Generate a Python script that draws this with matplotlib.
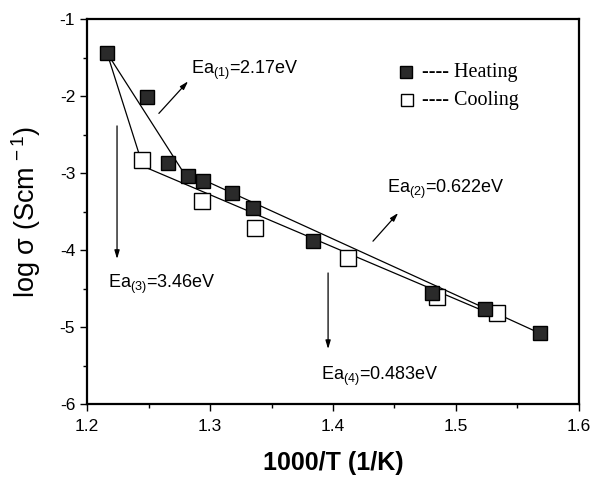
import matplotlib
matplotlib.use("Agg")
import matplotlib.pyplot as plt
from matplotlib.ticker import MultipleLocator

plt.rcParams["font.family"] = ["Liberation Sans", "DejaVu Sans"]
plt.rcParams["mathtext.fontset"] = "custom"
plt.rcParams["mathtext.rm"] = "Liberation Sans"
plt.rcParams["mathtext.it"] = "Liberation Sans"
plt.rcParams["mathtext.default"] = "regular"
plt.rcParams["axes.unicode_minus"] = False

# conductivity data, 1000/T vs log sigma
heat_x = [1.2163, 1.2488, 1.2659, 1.2821, 1.2943, 1.3179, 1.3350, 1.3837, 1.4805, 1.5236, 1.5683]
heat_y = [-1.44, -2.01, -2.87, -3.04, -3.10, -3.26, -3.45, -3.88, -4.55, -4.77, -5.08]
cool_x = [1.2447, 1.2935, 1.3366, 1.4122, 1.4846, 1.5333]
cool_y = [-2.83, -3.36, -3.71, -4.10, -4.61, -4.81]

# two-segment Arrhenius fits
fit_heat_x = [1.2163, 1.2772, 1.5683]
fit_heat_y = [-1.44, -2.96, -5.08]
fit_cool_x = [1.2163, 1.2455, 1.5358]
fit_cool_y = [-1.44, -2.91, -4.88]

ea_labels = ["Ea$_{(1)}$=2.17eV", "Ea$_{(2)}$=0.622eV", "Ea$_{(3)}$=3.46eV", "Ea$_{(4)}$=0.483eV"]
legend_labels = ["---- Heating", "---- Cooling"]

fig = plt.figure(figsize=(5.92, 4.8), dpi=100)
ax = fig.add_axes([0.147, 0.158, 0.831, 0.802])

ax.plot(fit_heat_x, fit_heat_y, color="black", lw=0.9, zorder=2)
ax.plot(fit_cool_x, fit_cool_y, color="black", lw=0.9, zorder=2)
ax.plot(cool_x, cool_y, ls="none", marker="s", ms=11, mfc="white", mec="black", mew=1.0, zorder=3)
ax.plot(heat_x, heat_y, ls="none", marker="s", ms=9.5, mfc="#2a2a2a", mec="black", mew=1.0, zorder=4)

arrow = dict(arrowstyle="-|>,head_length=0.5,head_width=0.15", color="black", lw=0.9)
# Ea(1)
ax.annotate("", xy=(1.2837, -1.78), xytext=(1.2569, -2.25), arrowprops=arrow)
ax.text(1.2845, -1.66, ea_labels[0], fontsize=13, va="center", ha="left")
# Ea(2)
ax.annotate("", xy=(1.4545, -3.49), xytext=(1.4310, -3.91), arrowprops=arrow)
ax.text(1.4440, -3.21, ea_labels[1], fontsize=13, va="center", ha="left")
# Ea(3)
ax.annotate("", xy=(1.2244, -4.15), xytext=(1.2244, -2.35), arrowprops=arrow)
ax.text(1.2170, -4.44, ea_labels[2], fontsize=13, va="center", ha="left")
# Ea(4)
ax.annotate("", xy=(1.3960, -5.32), xytext=(1.3960, -4.26), arrowprops=arrow)
ax.text(1.3900, -5.64, ea_labels[3], fontsize=13, va="center", ha="left")

# key in the upper right
ax.plot([0.649], [0.862], transform=ax.transAxes, ls="none", marker="s", ms=9,
        mfc="#2a2a2a", mec="black")
ax.plot([0.651], [0.790], transform=ax.transAxes, ls="none", marker="s", ms=8.5,
        mfc="white", mec="black")
for yy, lab in zip([0.862, 0.790], legend_labels):
    ax.text(0.680, yy, lab, transform=ax.transAxes, family="Liberation Serif",
            fontsize=14.5, va="center", ha="left")

ax.set_xlim(1.2, 1.6)
ax.set_ylim(-6, -1)
ax.xaxis.set_major_locator(MultipleLocator(0.1))
ax.xaxis.set_minor_locator(MultipleLocator(0.05))
ax.yaxis.set_major_locator(MultipleLocator(1))
ax.yaxis.set_minor_locator(MultipleLocator(0.5))
ax.tick_params(which="both", direction="out", top=False, right=False, labelsize=12.5, width=1.0)
ax.tick_params(which="major", length=5)
ax.tick_params(which="minor", length=3)
ax.tick_params(axis="x", pad=6)
for s in ax.spines.values():
    s.set_linewidth(1.6)

ax.set_xlabel("1000/T (1/K)", fontsize=18, fontweight="bold", labelpad=12)
ax.set_ylabel("log σ (Scm$^{\\,-1}$)", fontsize=19.5, labelpad=12)

fig.savefig("out.png", dpi=100)
